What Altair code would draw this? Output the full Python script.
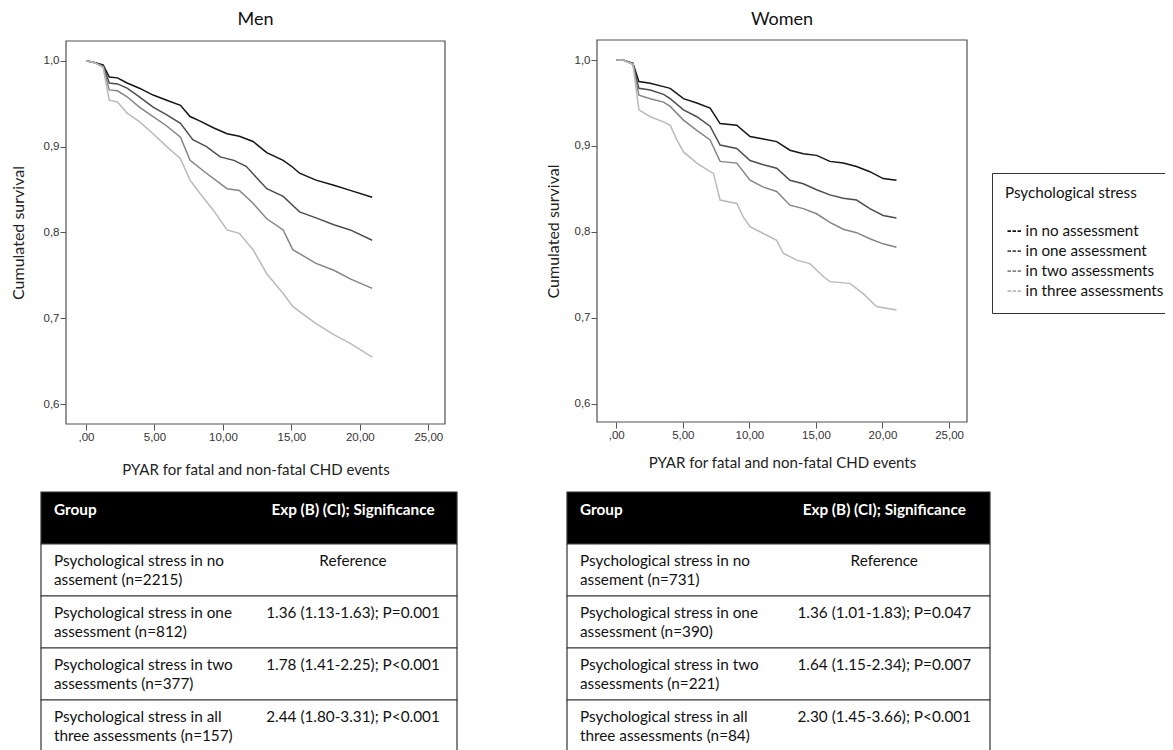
import altair as alt
import pandas as pd

W, H = 1157, 742

groups = ["in no assessment", "in one assessment", "in two assessments", "in three assessments"]
line_colors = ["#141414", "#4e4e4e", "#858585", "#bababa"]

# ---- Men: survival curves (years, cumulated survival) ----
men_none_t = [0, 0.6, 1.25, 1.7, 2.3, 3.0, 3.9, 4.9, 5.9, 6.9, 7.6, 8.3, 9.3, 10.3, 11.2, 12.2, 13.2, 14.4, 15.1, 15.6, 16.8, 18.1, 19.3, 20.9]
men_none_s = [1.0, 0.998, 0.995, 0.981, 0.980, 0.974, 0.968, 0.960, 0.954, 0.948, 0.935, 0.930, 0.922, 0.915, 0.912, 0.906, 0.893, 0.884, 0.876, 0.869, 0.861, 0.855, 0.849, 0.841]
men_one_t = [0, 0.6, 1.25, 1.7, 2.3, 3.0, 3.9, 4.9, 5.9, 6.9, 7.8, 8.8, 9.8, 10.8, 11.7, 13.2, 14.4, 15.6, 16.8, 18.1, 19.3, 20.9]
men_one_s = [1.0, 0.998, 0.994, 0.974, 0.973, 0.968, 0.958, 0.946, 0.937, 0.927, 0.908, 0.900, 0.888, 0.884, 0.877, 0.851, 0.842, 0.824, 0.817, 0.809, 0.803, 0.791]
men_two_t = [0, 0.6, 1.25, 1.7, 2.3, 3.0, 3.9, 4.9, 5.9, 6.9, 7.6, 8.8, 10.3, 11.2, 12.2, 13.2, 14.4, 15.1, 16.8, 18.1, 19.3, 20.9]
men_two_s = [1.0, 0.998, 0.993, 0.966, 0.965, 0.958, 0.946, 0.935, 0.924, 0.911, 0.884, 0.869, 0.851, 0.849, 0.834, 0.816, 0.803, 0.780, 0.764, 0.756, 0.746, 0.735]
men_three_t = [0, 0.6, 1.25, 1.7, 2.3, 3.0, 3.9, 4.9, 5.9, 6.9, 7.6, 8.3, 9.3, 10.3, 11.2, 12.2, 13.2, 14.4, 15.1, 16.1, 16.8, 18.1, 19.3, 20.9]
men_three_s = [1.0, 0.998, 0.992, 0.954, 0.952, 0.939, 0.929, 0.915, 0.900, 0.886, 0.861, 0.846, 0.826, 0.803, 0.799, 0.780, 0.752, 0.729, 0.714, 0.702, 0.694, 0.681, 0.671, 0.655]

# ---- Women: survival curves ----
wom_t = [0, 0.5, 1.25, 1.7, 2.55, 3.55, 4.05, 5.05, 6.05, 7.05, 7.8, 9.05, 10.05, 11.05, 12.05, 13.05, 14.05, 15.05, 16.05, 17.05, 18.05, 19.05, 20.05, 21.05]
wom_none_s = [1.0, 1.0, 0.996, 0.975, 0.973, 0.969, 0.967, 0.955, 0.950, 0.944, 0.926, 0.924, 0.911, 0.908, 0.905, 0.895, 0.891, 0.889, 0.882, 0.880, 0.876, 0.870, 0.862, 0.860]
wom_one_s = [1.0, 1.0, 0.996, 0.967, 0.965, 0.960, 0.955, 0.942, 0.934, 0.923, 0.901, 0.897, 0.883, 0.878, 0.874, 0.860, 0.856, 0.849, 0.843, 0.839, 0.837, 0.827, 0.819, 0.816]
wom_two_s = [1.0, 1.0, 0.995, 0.959, 0.955, 0.951, 0.946, 0.930, 0.918, 0.907, 0.882, 0.880, 0.860, 0.852, 0.847, 0.831, 0.827, 0.821, 0.811, 0.803, 0.799, 0.792, 0.786, 0.782]
wom_three_t = [0, 0.5, 1.25, 1.7, 2.55, 3.55, 4.05, 4.55, 5.05, 6.05, 7.05, 7.3, 7.8, 9.05, 9.55, 10.05, 11.05, 12.05, 12.55, 13.55, 14.55, 15.55, 16.05, 17.55, 18.55, 19.55, 21.05]
wom_three_s = [1.0, 1.0, 0.995, 0.942, 0.934, 0.928, 0.924, 0.907, 0.893, 0.880, 0.870, 0.868, 0.837, 0.833, 0.817, 0.806, 0.798, 0.790, 0.775, 0.767, 0.763, 0.748, 0.742, 0.740, 0.728, 0.713, 0.709]

# ---- Tables ----
table_rows = ["h", "r1", "r2", "r3", "r4"]
header = ["Group", "Exp (B) (CI); Significance"]
men_groups = ["Psychological stress in no\nassement (n=2215)",
              "Psychological stress in one\nassessment (n=812)",
              "Psychological stress in two\nassessments (n=377)",
              "Psychological stress in all\nthree assessments (n=157)"]
men_hr = ["Reference", "1.36 (1.13-1.63); P=0.001", "1.78 (1.41-2.25); P<0.001", "2.44 (1.80-3.31); P<0.001"]
wom_groups = ["Psychological stress in no\nassement (n=731)",
              "Psychological stress in one\nassessment (n=390)",
              "Psychological stress in two\nassessments (n=221)",
              "Psychological stress in all\nthree assessments (n=84)"]
wom_hr = ["Reference", "1.36 (1.01-1.83); P=0.047", "1.64 (1.15-2.34); P=0.007", "2.30 (1.45-3.66); P<0.001"]

x_ticks = [0, 5, 10, 15, 20, 25]
y_ticks = [0.6, 0.7, 0.8, 0.9, 1.0]


def curves(series):
    rows = []
    for g, (ts, ss) in zip(groups, series):
        for t, s in zip(ts, ss):
            rows.append({"group": g, "t": t, "s": s})
    return pd.DataFrame(rows)


men_df = curves([(men_none_t, men_none_s), (men_one_t, men_one_s),
                 (men_two_t, men_two_s), (men_three_t, men_three_s)])
wom_df = curves([(wom_t, wom_none_s), (wom_t, wom_one_s),
                 (wom_t, wom_two_s), (wom_three_t, wom_three_s)])

legend = alt.Legend(
    title="Psychological stress", orient="none", legendX=984, legendY=165,
    symbolType="stroke", symbolSize=196, symbolStrokeWidth=1.8, symbolDash=[3.5, 1.5],
    symbolOffset=1.5,
    titleFont="Lato", titleFontSize=15.2, titleFontWeight="normal", titleColor="#111",
    titlePadding=22, labelFont="Lato", labelFontSize=15.2, labelColor="#111",
    labelOffset=3, rowPadding=3, padding=13, strokeColor="#333", fillColor="white",
)
color = alt.Color("group:N", scale=alt.Scale(domain=groups, range=line_colors), legend=legend)

one = pd.DataFrame({"k": [0]})


def panel(df, name, xdom, xrng, ydom, yrng, xtpad, ytpad):
    xs = alt.Scale(domain=xdom, range=xrng, nice=False, zero=False)
    ys = alt.Scale(domain=ydom, range=yrng, nice=False, zero=False)
    common = dict(domain=False, grid=False, ticks=True, labels=True, tickSize=6,
                  tickColor="#555", tickWidth=1,
                  labelFont="Liberation Sans", labelFontSize=11.5, labelColor="#333",
                  labelPadding=1, titleFontWeight="normal", titleColor="#222",
                  titleFont="Lato")
    xaxis = alt.Axis(orient="bottom", offset=yrng[0] - H, values=x_ticks,
                     labelExpr="datum.value == 0 ? ',00' : replace(format(datum.value, '.2f'), '.', ',')",
                     title="PYAR for fatal and non-fatal CHD events", titlePadding=xtpad,
                     titleFontSize=15, **common)
    yaxis = alt.Axis(orient="left", offset=-xrng[0], values=y_ticks,
                     labelExpr="replace(format(datum.value, '.1f'), '.', ',')",
                     title="Cumulated survival", titlePadding=ytpad,
                     titleFontSize=16, **common)
    box = alt.Chart(one).mark_rect(fill="white", stroke="#505050", strokeWidth=1.2).encode(
        x=alt.XDatum(xdom[0], scale=xs, axis=None), x2=alt.X2Datum(xdom[1]),
        y=alt.YDatum(ydom[0], scale=ys, axis=None), y2=alt.Y2Datum(ydom[1]))
    lines = alt.Chart(df).mark_line(strokeWidth=1.5).encode(
        x=alt.X("t:Q", scale=xs, axis=xaxis),
        y=alt.Y("s:Q", scale=ys, axis=yaxis),
        color=color)
    ttl = alt.Chart(one).mark_text(text=name, font="Lato", fontSize=18, color="#111").encode(
        x=alt.XDatum((xdom[0] + xdom[1]) / 2, scale=xs, axis=None),
        y=alt.YDatum(1.047, scale=ys, axis=None))
    return [box, lines, ttl]


def table(xrng, labels, values):
    xs = alt.Scale(domain=[0, 1], range=xrng, nice=False, zero=False)
    ys = alt.Scale(domain=table_rows, range=[484, 744], paddingInner=0, paddingOuter=0)
    y = alt.Y("row:N", scale=ys, axis=None)
    rect_df = pd.DataFrame({"row": table_rows})
    rects = alt.Chart(rect_df).mark_rect(stroke="#333", strokeWidth=1.2).encode(
        x=alt.XDatum(0, scale=xs, axis=None), x2=alt.X2Datum(1), y=y,
        fill=alt.condition("datum.row == 'h'", alt.value("#000"), alt.value("#fff")))
    head_df = pd.DataFrame({"row": ["h"], "a": [header[0]], "b": [header[1]]})
    body_df = pd.DataFrame({"row": table_rows[1:], "a": labels, "b": values})
    tstyle = dict(font="Lato", fontSize=15.3, baseline="middle", lineBreak="\n", lineHeight=19)
    ha = alt.Chart(head_df).mark_text(align="left", dx=13, dy=-8, fontWeight="bold", color="white", **tstyle).encode(
        x=alt.XDatum(0, scale=xs, axis=None), y=y, text="a:N")
    hb = alt.Chart(head_df).mark_text(align="center", dy=-8, fontWeight="bold", color="white", **tstyle).encode(
        x=alt.XDatum(0.75, scale=xs, axis=None), y=y, text="b:N")
    ba = alt.Chart(body_df).mark_text(align="left", dx=13, dy=-9.5, color="#111", **tstyle).encode(
        x=alt.XDatum(0, scale=xs, axis=None), y=y, text="a:N")
    bb = alt.Chart(body_df).mark_text(align="center", dy=-9.5, color="#111", **tstyle).encode(
        x=alt.XDatum(0.75, scale=xs, axis=None), y=y, text="b:N")
    return [rects, ha, hb, ba, bb]


layers = (
    panel(men_df, "Men", [-1.461, 26.22], [58, 437], [0.57707, 1.02293], [416, 33], 20, 17)
    + panel(wom_df, "Women", [-1.448, 26.35], [589, 959], [0.5786, 1.0233], [414, 32], 15, 13)
    + table([33, 449], men_groups, men_hr)
    + table([559, 982], wom_groups, wom_hr)
)

chart = alt.layer(*layers).resolve_scale(
    x="independent", y="independent"
).resolve_axis(
    x="independent", y="independent"
).properties(
    width=W, height=H, autosize=alt.AutoSizeParams(type="none"), padding=0, background="white"
).configure(font="Lato").configure_view(strokeWidth=0, stroke=None)

chart.save("out.html", embed_options={"renderer": "svg", "actions": False})
